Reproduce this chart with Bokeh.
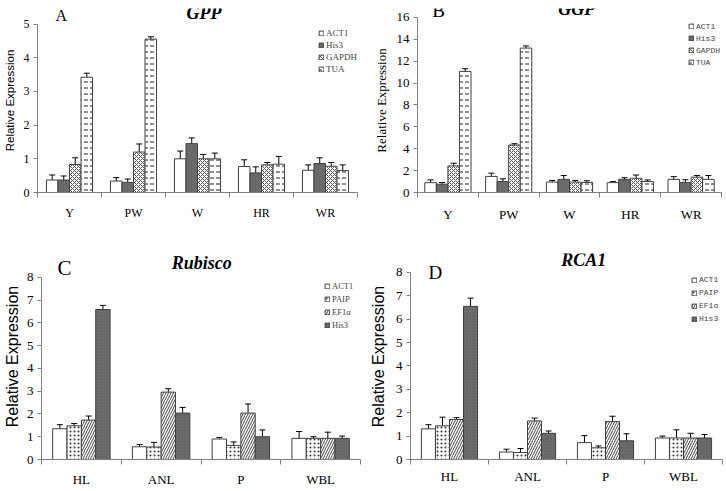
from bokeh.plotting import figure
from bokeh.models import (ColumnDataSource, Whisker, TeeHead, Label, Legend,
                          LegendItem, FixedTicker, Range1d)
from bokeh.transform import dodge
from bokeh.layouts import column, row
from bokeh.embed import file_html
from bokeh.resources import INLINE

# ---------------- data ----------------
a_categories = ["Y", "PW", "W", "HR", "WR"]
a_series = ["ACT1", "His3", "GAPDH", "TUA"]
a_ACT1 = [0.37, 0.34, 1.00, 0.77, 0.66]
a_ACT1_err = [0.15, 0.10, 0.23, 0.20, 0.16]
a_His3 = [0.37, 0.30, 1.45, 0.58, 0.86]
a_His3_err = [0.12, 0.10, 0.17, 0.18, 0.17]
a_GAPDH = [0.83, 1.20, 1.00, 0.82, 0.78]
a_GAPDH_err = [0.20, 0.24, 0.13, 0.07, 0.11]
a_TUA = [3.42, 4.55, 1.00, 0.84, 0.65]
a_TUA_err = [0.12, 0.07, 0.17, 0.23, 0.17]
a_yticks = [0, 1, 2, 3, 4, 5]

b_categories = ["Y", "PW", "W", "HR", "WR"]
b_series = ["ACT1", "His3", "GAPDH", "TUA"]
b_ACT1 = [0.90, 1.47, 0.95, 0.90, 1.20]
b_ACT1_err = [0.25, 0.30, 0.15, 0.10, 0.25]
b_His3 = [0.76, 1.00, 1.20, 1.20, 0.92]
b_His3_err = [0.15, 0.25, 0.35, 0.15, 0.25]
b_GAPDH = [2.43, 4.34, 0.95, 1.30, 1.40]
b_GAPDH_err = [0.25, 0.12, 0.15, 0.30, 0.15]
b_TUA = [11.07, 13.20, 0.92, 1.00, 1.20]
b_TUA_err = [0.25, 0.20, 0.15, 0.15, 0.35]
b_yticks = [0, 2, 4, 6, 8, 10, 12, 14, 16]

c_categories = ["HL", "ANL", "P", "WBL"]
c_series = ["ACT1", "PAIP", "EF1\u03b1", "His3"]
c_ACT1 = [1.35, 0.56, 0.90, 0.93]
c_ACT1_err = [0.18, 0.10, 0.07, 0.30]
c_PAIP = [1.48, 0.55, 0.62, 0.93]
c_PAIP_err = [0.10, 0.20, 0.15, 0.07]
c_EF1a = [1.73, 2.96, 2.04, 0.93]
c_EF1a_err = [0.18, 0.15, 0.40, 0.27]
c_His3 = [6.59, 2.04, 1.00, 0.93]
c_His3_err = [0.18, 0.25, 0.30, 0.10]
c_yticks = [0, 1, 2, 3, 4, 5, 6, 7, 8]

d_categories = ["HL", "ANL", "P", "WBL"]
d_series = ["ACT1", "PAIP", "EF1\u03b1", "His3"]
d_ACT1 = [1.31, 0.32, 0.72, 0.92]
d_ACT1_err = [0.18, 0.12, 0.30, 0.08]
d_PAIP = [1.44, 0.30, 0.50, 0.92]
d_PAIP_err = [0.37, 0.17, 0.08, 0.35]
d_EF1a = [1.71, 1.65, 1.62, 0.92]
d_EF1a_err = [0.08, 0.12, 0.23, 0.20]
d_His3 = [6.55, 1.12, 0.80, 0.92]
d_His3_err = [0.35, 0.10, 0.30, 0.15]
d_yticks = [0, 1, 2, 3, 4, 5, 6, 7, 8]

# ---------------- styles ----------------
SERIF = "Liberation Serif"
SANS = "Liberation Sans"
MONO = "Liberation Mono"
EDGE = "#404040"

ST_WHITE = dict(fill_color="white")
ST_DARK = dict(fill_color="#6a6a6a")
ST_CROSS = dict(fill_color="white", hatch_pattern="diagonal_cross", hatch_scale=4,
                hatch_color="#555555", hatch_weight=1)
ST_DASH = dict(fill_color="white", hatch_pattern="horizontal_dash", hatch_scale=6,
               hatch_color="#222222", hatch_weight=1)
ST_DOT = dict(fill_color="white", hatch_pattern="dot", hatch_scale=4,
              hatch_color="#333333", hatch_weight=1)
ST_DIAG = dict(fill_color="white", hatch_pattern="right_diagonal_line", hatch_scale=5,
               hatch_color="#444444", hatch_weight=1)
ST_DARK2 = dict(fill_color="#707070", hatch_pattern="diagonal_cross", hatch_scale=3,
                hatch_color="#5a5a5a", hatch_weight=0.6)


def panel(cats, names, vals, errs, styles, yticks, y_end, width, height,
          borders, bar_w, tick_size, x_standoff, axis_label_font,
          axis_label_size, axis_label_standoff, title, title_xy, letter,
          letter_xy, letter_size, leg_font, leg_size, leg_loc, leg_item_h):
    n = len(cats)
    p = figure(width=width, height=height, output_backend="svg",
               toolbar_location=None,
               x_range=Range1d(-0.5, n - 0.5), y_range=Range1d(0, y_end),
               min_border_left=borders[0], min_border_right=borders[1],
               min_border_top=borders[2], min_border_bottom=borders[3])
    p.outline_line_color = None
    p.grid.visible = False
    p.background_fill_color = "white"

    xs = list(range(n))
    k = len(names)
    items = []
    for j in range(k):
        off = (j - (k - 1) / 2) * bar_w
        src = ColumnDataSource(dict(
            x=xs, top=vals[j],
            upper=[v + e for v, e in zip(vals[j], errs[j])],
            lower=[max(v - e, 0) for v, e in zip(vals[j], errs[j])]))
        r = p.vbar(x=dodge("x", off), top="top", width=bar_w, bottom=0,
                   source=src, line_color=EDGE, line_width=1, **styles[j])
        w = Whisker(base=dodge("x", off), upper="upper", lower="lower",
                    source=src, line_color="black", line_width=1,
                    upper_head=TeeHead(size=6, line_color="black", line_width=1),
                    lower_head=TeeHead(size=6, line_color="black", line_width=1))
        p.add_layout(w)
        items.append(LegendItem(label=names[j], renderers=[r]))

    leg = Legend(items=items, location=leg_loc, label_text_font=leg_font,
                 label_text_font_size=leg_size, glyph_width=6, glyph_height=6,
                 label_standoff=2, spacing=0, padding=0, margin=0,
                 label_height=leg_item_h, border_line_color=None,
                 background_fill_alpha=0)
    p.add_layout(leg)

    # x axis
    xa = p.xaxis[0]
    xa.ticker = FixedTicker(ticks=xs, minor_ticks=[i - 0.5 for i in range(n + 1)])
    xa.major_label_overrides = {i: c for i, c in enumerate(cats)}
    xa.major_tick_out = 0
    xa.major_tick_in = 0
    xa.minor_tick_out = 5
    xa.minor_tick_in = 0
    xa.minor_tick_line_color = "#808080"
    xa.axis_line_color = "#808080"
    xa.major_label_text_font = SERIF
    xa.major_label_text_font_size = tick_size
    xa.major_label_text_color = "black"
    xa.major_label_standoff = x_standoff

    # y axis
    ya = p.yaxis[0]
    ya.ticker = FixedTicker(ticks=yticks)
    ya.bounds = (yticks[0], yticks[-1])
    ya.major_tick_out = 4
    ya.major_tick_in = 0
    ya.minor_tick_out = 0
    ya.minor_tick_in = 0
    ya.major_tick_line_color = "#808080"
    ya.axis_line_color = "#808080"
    ya.major_label_text_font = SERIF
    ya.major_label_text_font_size = tick_size
    ya.major_label_text_color = "black"
    ya.major_label_standoff = 4
    ya.axis_label = "Relative Expression"
    ya.axis_label_text_font = axis_label_font
    ya.axis_label_text_font_size = axis_label_size
    ya.axis_label_text_font_style = "normal"
    ya.axis_label_text_color = "black"
    ya.axis_label_standoff = axis_label_standoff

    p.add_layout(Label(x=title_xy[0], y=title_xy[1], text=title,
                       text_font=SERIF, text_font_size="18px",
                       text_font_style="bold italic", text_align="center",
                       text_baseline="middle", text_color="black"))
    p.add_layout(Label(x=letter_xy[0], y=letter_xy[1], text=letter,
                       text_font=SERIF, text_font_size=letter_size,
                       text_align="center", text_baseline="middle",
                       text_color="black"))
    return p


pa = panel(a_categories, a_series,
           [a_ACT1, a_His3, a_GAPDH, a_TUA],
           [a_ACT1_err, a_His3_err, a_GAPDH_err, a_TUA_err],
           [ST_WHITE, ST_DARK, ST_CROSS, ST_DASH],
           a_yticks, 5.46, 363, 245, (34, 6, 8, 48), 0.18, "12px", 8,
           SANS, "11.5px", 5, "GPP", (2.1, 5.32), "A", (-0.13, 5.26), "16px",
           SERIF, "9px", (281, 117), 12)

pb = panel(b_categories, b_series,
           [b_ACT1, b_His3, b_GAPDH, b_TUA],
           [b_ACT1_err, b_His3_err, b_GAPDH_err, b_TUA_err],
           [ST_WHITE, ST_DARK, ST_CROSS, ST_DASH],
           b_yticks, 16.82, 361, 245, (54, 3, 8, 53), 0.19, "13px", 9,
           SERIF, "13px", 5, "GGP", (2.12, 16.8), "B", (-0.155, 16.64), "19px",
           MONO, "8px", (271, 124), 12)

pc = panel(c_categories, c_series,
           [c_ACT1, c_PAIP, c_EF1a, c_His3],
           [c_ACT1_err, c_PAIP_err, c_EF1a_err, c_His3_err],
           [ST_WHITE, ST_DOT, ST_DIAG, ST_DARK2],
           c_yticks, 9.05, 363, 244, (39, 3, 8, 21), 0.18, "13px", 7,
           SANS, "16px", 3, "Rubisco", (1.51, 8.65), "C", (-0.21, 8.4), "21px",
           SERIF, "8.5px", (283, 128), 13)

pd_ = panel(d_categories, d_series,
            [d_ACT1, d_PAIP, d_EF1a, d_His3],
            [d_ACT1_err, d_PAIP_err, d_EF1a_err, d_His3_err],
            [ST_WHITE, ST_DOT, ST_DIAG, ST_DARK2],
            d_yticks, 8.81, 361, 244, (47, 2, 8, 18), 0.18, "13px", 4,
            SANS, "16px", 6, "RCA1", (1.72, 8.53), "D", (-0.18, 8.0), "19px",
            MONO, "8px", (281, 134), 13)

layout = column(row(pa, pb), row(pc, pd_))
open("out.html", "w").write(file_html(layout, INLINE))
